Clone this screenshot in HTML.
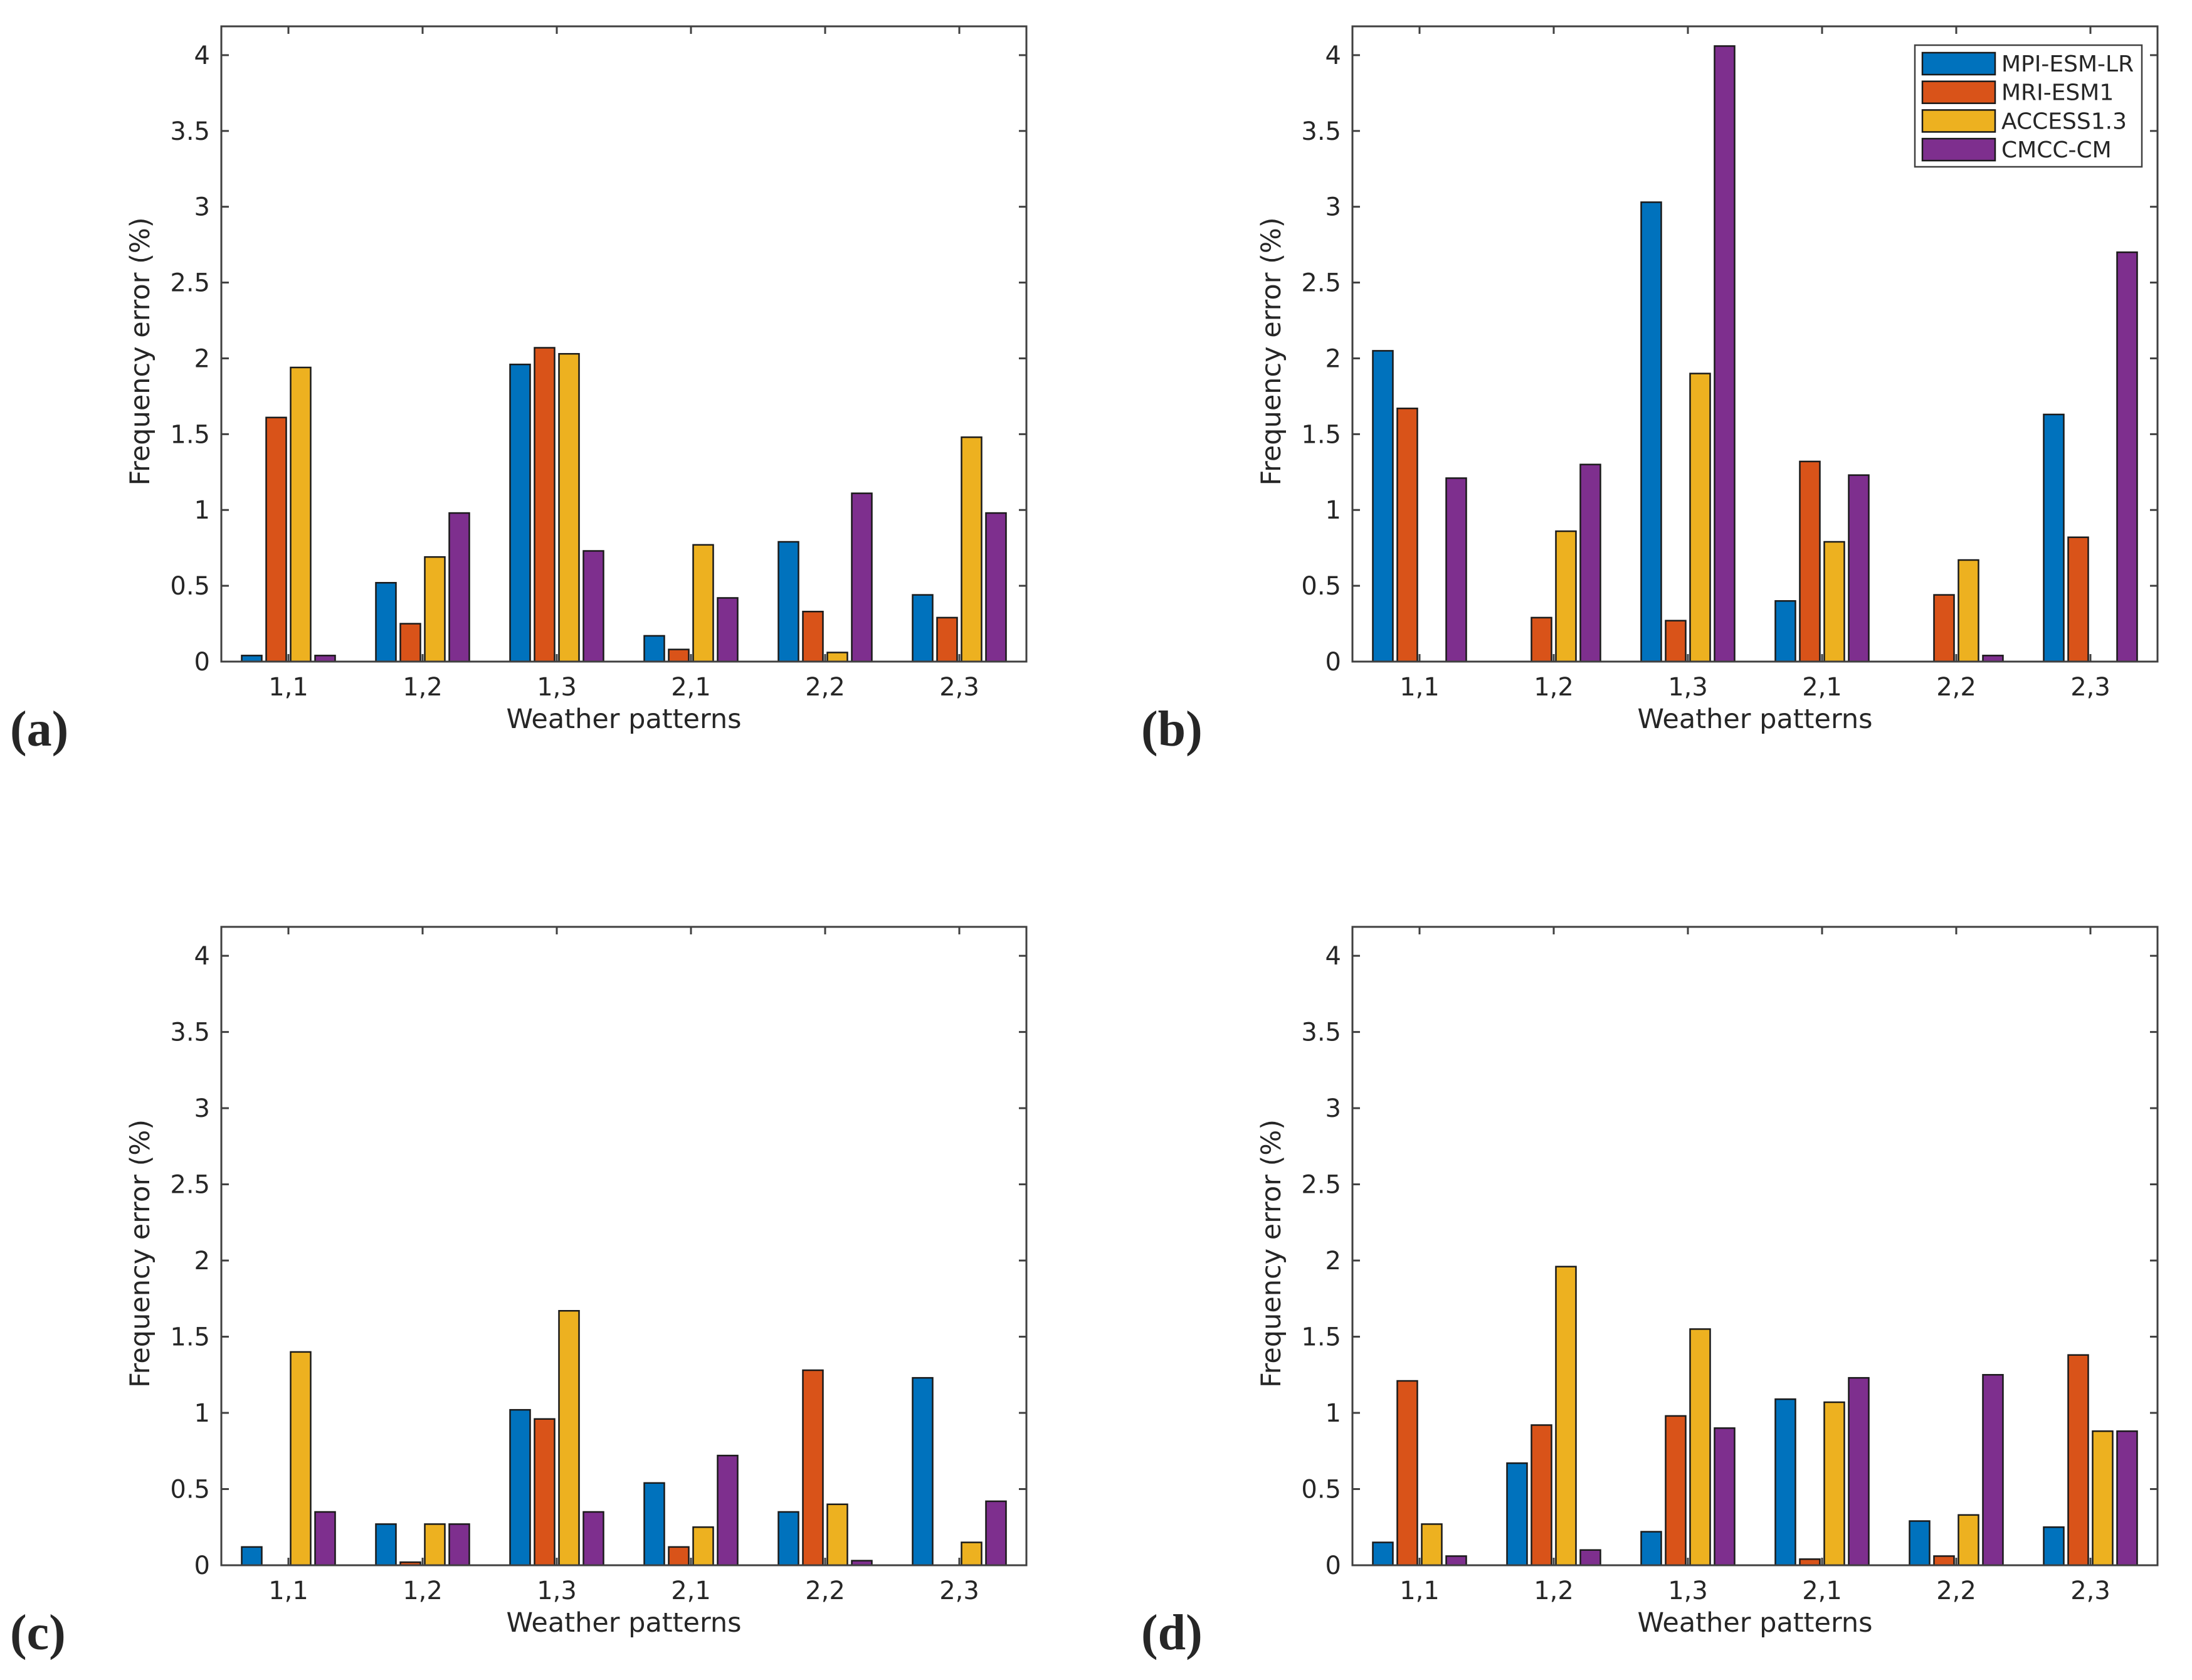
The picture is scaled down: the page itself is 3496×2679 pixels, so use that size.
<!DOCTYPE html>
<html><head><meta charset="utf-8">
<style>
html,body{margin:0;padding:0;background:#fff;}
svg{display:block;}
text{font-family:"DejaVu Sans","Liberation Sans",sans-serif;fill:#262626;}
</style></head>
<body>
<svg id="fig" width="3496" height="2679" viewBox="0 0 3496 2679" xmlns="http://www.w3.org/2000/svg"></svg>
<script>
const categories = ["1,1","1,2","1,3","2,1","2,2","2,3"];
const seriesNames = ["MPI-ESM-LR","MRI-ESM1","ACCESS1.3","CMCC-CM"];
const seriesColors = ["#0072BD","#D95319","#EDB120","#7E2F8E"];
const yTickValues = [0,0.5,1,1.5,2,2.5,3,3.5,4];
const yTickLabels = ["0","0.5","1","1.5","2","2.5","3","3.5","4"];
// values per panel, [series][category]
const panelA = [
  [0.04,0.52,1.96,0.17,0.79,0.44],
  [1.61,0.25,2.07,0.08,0.33,0.29],
  [1.94,0.69,2.03,0.77,0.06,1.48],
  [0.04,0.98,0.73,0.42,1.11,0.98]
];
const panelB = [
  [2.05,0,3.03,0.40,0,1.63],
  [1.67,0.29,0.27,1.32,0.44,0.82],
  [0,0.86,1.90,0.79,0.67,0],
  [1.21,1.30,4.06,1.23,0.04,2.70]
];
const panelC = [
  [0.12,0.27,1.02,0.54,0.35,1.23],
  [0,0.02,0.96,0.12,1.28,0],
  [1.40,0.27,1.67,0.25,0.40,0.15],
  [0.35,0.27,0.35,0.72,0.03,0.42]
];
const panelD = [
  [0.15,0.67,0.22,1.09,0.29,0.25],
  [1.21,0.92,0.98,0.04,0.06,1.38],
  [0.27,1.96,1.55,1.07,0.33,0.88],
  [0.06,0.10,0.90,1.23,1.25,0.88]
];
const panels = [
  {id:"a", data:panelA, left:353, top:42, H:1013, legend:false},
  {id:"b", data:panelB, left:2157, top:42, H:1013, legend:true},
  {id:"c", data:panelC, left:353, top:1478, H:1018, legend:false},
  {id:"d", data:panelD, left:2157, top:1478, H:1018, legend:false}
];
const NS="http://www.w3.org/2000/svg";
const svg=document.getElementById('fig');
const W=1284, YMAX=4.19;
function mk(tag, attrs, parent){const e=document.createElementNS(NS,tag);for(const k in attrs)e.setAttribute(k,attrs[k]);(parent||svg).appendChild(e);return e;}
panels.forEach(p=>{
  const g=mk('g',{});
  
  
  const H=p.H;
  const L=p.left,T=p.top,B=T+H,R=L+W;
  const xScale=v=>L+(v+0.5)*(W/categories.length);
  const yScale=v=>B-v*(H/YMAX);
  const bw=32, offs=[-58.5,-19.5,19.5,58.5];
  p.data.forEach((ser,si)=>{
    ser.forEach((v,ci)=>{
      const cx=xScale(ci)+offs[si];
      const y=yScale(v);
      const r=mk('rect',{x:cx-bw/2,y:y,width:bw,height:Math.max(0,B-y),fill:seriesColors[si],stroke:"#1a1a1a","stroke-width":2.5},g);
      
      
    });
  });
  const box=mk('rect',{x:L,y:T,width:W,height:H,fill:"none",stroke:"#404040","stroke-width":3},g);
  
  
  yTickValues.forEach((v,i)=>{
    const y=yScale(v);
    mk('line',{x1:L,y1:y,x2:L+12,y2:y,stroke:"#404040","stroke-width":3},g);
    mk('line',{x1:R,y1:y,x2:R-12,y2:y,stroke:"#404040","stroke-width":3},g);
    const t=mk('text',{x:L-18,y:y+14,"font-size":40,"text-anchor":"end"},g);
    t.textContent=yTickLabels[i];
    
    
  });
  categories.forEach((c,i)=>{
    const x=xScale(i);
    mk('line',{x1:x,y1:B,x2:x,y2:B-12,stroke:"#404040","stroke-width":3},g);
    mk('line',{x1:x,y1:T,x2:x,y2:T+12,stroke:"#404040","stroke-width":3},g);
    const t=mk('text',{x:x,y:B+54,"font-size":40,"text-anchor":"middle"},g);
    t.textContent=c;
    
    
  });
  const xt=mk('text',{x:L+W/2,y:B+106,"font-size":43,"text-anchor":"middle"},g);
  xt.textContent="Weather patterns";
  
  
  const yc=T+H/2+12;
  const yt=mk('text',{x:L-115,y:yc,"font-size":43,"text-anchor":"middle",transform:`rotate(-90 ${L-115} ${yc})`},g);
  yt.textContent="Frequency error (%)";
  
  
  const pl=mk('text',{x:L-337,y:B+134,"font-size":80,"font-weight":"bold",style:'font-family:"Liberation Serif",serif'},g);
  pl.textContent="("+p.id+")";
  
  
  if(p.legend){
    const lg=mk('g',{},g);
    
    
    mk('rect',{x:3054,y:72,width:362,height:194,fill:"#fff",stroke:"#404040","stroke-width":2.5},lg);
    seriesNames.forEach((n,i)=>{
      const cy=101+i*45.7;
      const sw=mk('rect',{x:3066,y:cy-17,width:116,height:35,fill:seriesColors[i],stroke:"#1a1a1a","stroke-width":2.5},lg);
      
      
      const t=mk('text',{x:3192,y:cy+13,"font-size":36,fill:"#000"},lg);
      t.textContent=n;
      
      
    });
  }
});
</script>
</body></html>
